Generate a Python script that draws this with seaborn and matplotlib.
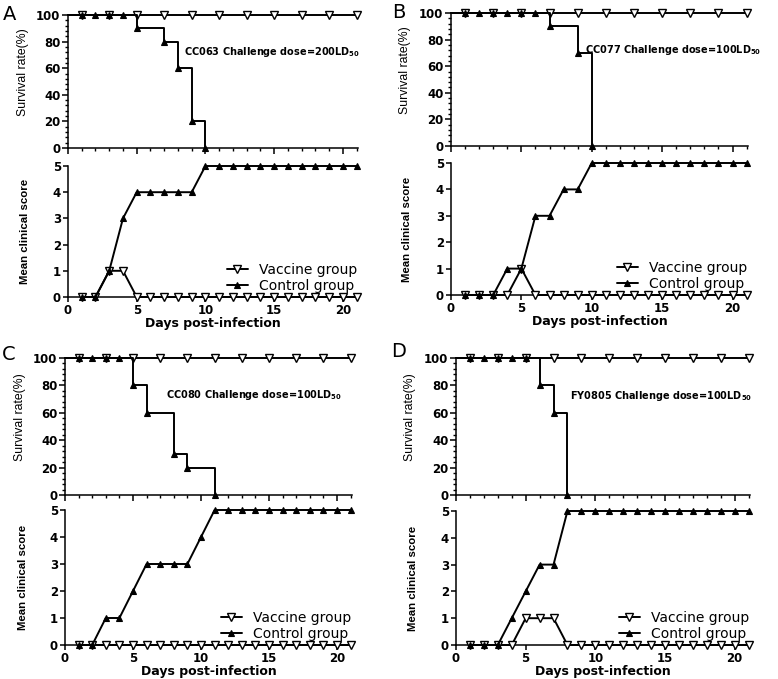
import numpy as np
import pandas as pd
import matplotlib
matplotlib.use('Agg')
import matplotlib.pyplot as plt
from matplotlib.ticker import MultipleLocator, NullFormatter
import seaborn as sns

# ---- data ----
panel_letters = ['A', 'B', 'C', 'D']
strains = ['CC063', 'CC077', 'CC080', 'FY0805']
doses = ['200', '100', '100', '100']

# survival (%), vaccine group: 100% throughout
vac_surv_days = [0, 1, 3, 5, 7, 9, 11, 13, 15, 17, 19, 21]
vac_surv = [100, 100, 100, 100, 100, 100, 100, 100, 100, 100, 100, 100]

# survival (%), control group
ctrl_surv_days_A = [0, 1, 2, 3, 4, 5, 7, 8, 9, 10]
ctrl_surv_A = [100, 100, 100, 100, 100, 90, 80, 60, 20, 0]
ctrl_surv_days_B = [0, 1, 2, 3, 4, 5, 6, 7, 9, 10]
ctrl_surv_B = [100, 100, 100, 100, 100, 100, 100, 90, 70, 0]
ctrl_surv_days_C = [0, 1, 2, 3, 4, 5, 6, 8, 9, 11]
ctrl_surv_C = [100, 100, 100, 100, 100, 80, 60, 30, 20, 0]
ctrl_surv_days_D = [0, 1, 2, 3, 4, 5, 6, 7, 8]
ctrl_surv_D = [100, 100, 100, 100, 100, 100, 80, 60, 0]

# mean clinical score, days 1..21
score_days = [1, 2, 3, 4, 5, 6, 7, 8, 9, 10, 11, 12, 13, 14, 15, 16, 17, 18, 19, 20, 21]
vac_score_A = [0, 0, 1, 1, 0, 0, 0, 0, 0, 0, 0, 0, 0, 0, 0, 0, 0, 0, 0, 0, 0]
ctrl_score_A = [0, 0, 1, 3, 4, 4, 4, 4, 4, 5, 5, 5, 5, 5, 5, 5, 5, 5, 5, 5, 5]
vac_score_B = [0, 0, 0, 0, 1, 0, 0, 0, 0, 0, 0, 0, 0, 0, 0, 0, 0, 0, 0, 0, 0]
ctrl_score_B = [0, 0, 0, 1, 1, 3, 3, 4, 4, 5, 5, 5, 5, 5, 5, 5, 5, 5, 5, 5, 5]
vac_score_C = [0, 0, 0, 0, 0, 0, 0, 0, 0, 0, 0, 0, 0, 0, 0, 0, 0, 0, 0, 0, 0]
ctrl_score_C = [0, 0, 1, 1, 2, 3, 3, 3, 3, 4, 5, 5, 5, 5, 5, 5, 5, 5, 5, 5, 5]
vac_score_D = [0, 0, 0, 0, 1, 1, 1, 0, 0, 0, 0, 0, 0, 0, 0, 0, 0, 0, 0, 0, 0]
ctrl_score_D = [0, 0, 0, 1, 2, 3, 3, 5, 5, 5, 5, 5, 5, 5, 5, 5, 5, 5, 5, 5, 5]

ctrl_surv_days = [ctrl_surv_days_A, ctrl_surv_days_B, ctrl_surv_days_C, ctrl_surv_days_D]
ctrl_surv = [ctrl_surv_A, ctrl_surv_B, ctrl_surv_C, ctrl_surv_D]
vac_score = [vac_score_A, vac_score_B, vac_score_C, vac_score_D]
ctrl_score = [ctrl_score_A, ctrl_score_B, ctrl_score_C, ctrl_score_D]

# ---- style ----
sns.set_style('ticks')
plt.rcParams['font.family'] = ['DejaVu Sans']
plt.rcParams.update({'axes.linewidth': 1.1, 'font.weight': 'bold',
                     'text.color': 'black', 'axes.labelcolor': 'black',
                     'axes.edgecolor': 'black', 'xtick.color': 'black', 'ytick.color': 'black'})
narrow = ['Liberation Sans Narrow', 'Liberation Sans']

fig = plt.figure(figsize=(7.78, 6.79), dpi=100)
W, H = 778.0, 679.0

# axes boxes in pixels: (left, right, top of survival, bottom of survival, top of score, bottom of score)
boxes = [(68, 358, 15, 148, 166, 297),
         (451, 748, 13, 146, 163, 295),
         (65, 352, 358, 495, 510, 645),
         (456, 750, 358, 495, 511, 645)]
letter_pos = [(3, 20), (392, 18), (2, 360), (391, 357)]
note_pos = [(8.45, 72), (9.5, 72), (7.4, 73), (8.2, 72)]

vac_kw = dict(color='black', marker='v', markersize=5.2, markerfacecolor='white',
              markeredgecolor='black', markeredgewidth=1.0, linewidth=1.4, clip_on=False)
ctrl_kw = dict(color='black', marker='^', markersize=4.6, markerfacecolor='black',
               markeredgecolor='black', markeredgewidth=0.8, linewidth=1.4, clip_on=False)

for i in range(4):
    l, r, st, sb, ct, cb = boxes[i]
    ax_s = fig.add_axes([l / W, 1 - sb / H, (r - l) / W, (sb - st) / H])
    ax_c = fig.add_axes([l / W, 1 - cb / H, (r - l) / W, (cb - ct) / H])

    # survival curves
    sns.lineplot(x=vac_surv_days, y=vac_surv, ax=ax_s, drawstyle='steps-post',
                 markevery=slice(1, None), estimator=None, errorbar=None, zorder=3, **vac_kw)
    sns.lineplot(x=ctrl_surv_days[i], y=ctrl_surv[i], ax=ax_s, drawstyle='steps-post',
                 markevery=slice(1, None), estimator=None, errorbar=None, zorder=4, **ctrl_kw)
    ax_s.set_xlim(0, 21.1)
    ax_s.set_ylim(0, 100)
    ax_s.xaxis.set_major_locator(MultipleLocator(5))
    ax_s.xaxis.set_minor_locator(MultipleLocator(1))
    ax_s.xaxis.set_major_formatter(NullFormatter())
    ax_s.yaxis.set_major_locator(MultipleLocator(20))
    ax_s.yaxis.set_minor_locator(MultipleLocator(4))
    ax_s.tick_params(which='major', length=4, width=1.1, pad=1.5, labelsize=8.5)
    ax_s.tick_params(which='minor', length=2.5, width=1.0)
    ax_s.set_ylabel('Survival rate(%)', family=narrow, fontweight='normal', fontsize=8.8)
    ax_s.yaxis.set_label_coords(-0.135, 0.57)
    ax_s.text(note_pos[i][0], note_pos[i][1],
              strains[i] + ' Challenge dose=' + doses[i] + r'LD$_\mathbf{50}$',
              fontsize=7, fontweight='bold', va='center', ha='left')

    # clinical score curves
    sns.lineplot(x=score_days, y=vac_score[i], ax=ax_c, estimator=None, errorbar=None,
                 label='Vaccine group', zorder=3, **vac_kw)
    sns.lineplot(x=score_days, y=ctrl_score[i], ax=ax_c, estimator=None, errorbar=None,
                 label='Control group', zorder=4, **ctrl_kw)
    ax_c.set_xlim(0, 21.1)
    ax_c.set_ylim(0, 5)
    ax_c.xaxis.set_major_locator(MultipleLocator(5))
    ax_c.yaxis.set_major_locator(MultipleLocator(1))
    ax_c.tick_params(which='major', length=3.5, width=1.1, pad=1.5, labelsize=8.5)
    ax_c.set_ylabel('Mean clinical score', family=narrow, fontweight='bold', fontsize=8.2)
    ax_c.yaxis.set_label_coords(-0.13, 0.5)
    ax_c.set_xlabel('Days post-infection', fontsize=9, fontweight='bold', labelpad=0)
    ax_c.legend(loc='lower right', bbox_to_anchor=(1.03, -0.04), frameon=False,
                prop={'size': 10, 'weight': 'normal'},
                handlelength=1.5, handletextpad=0.8, labelspacing=0.1, borderaxespad=0.3)

    for ax in (ax_s, ax_c):
        sns.despine(ax=ax)

    fig.text(letter_pos[i][0] / W, 1 - letter_pos[i][1] / H, panel_letters[i],
             fontsize=14, fontweight='normal', va='baseline', ha='left')

fig.savefig('out.png', dpi=100)
